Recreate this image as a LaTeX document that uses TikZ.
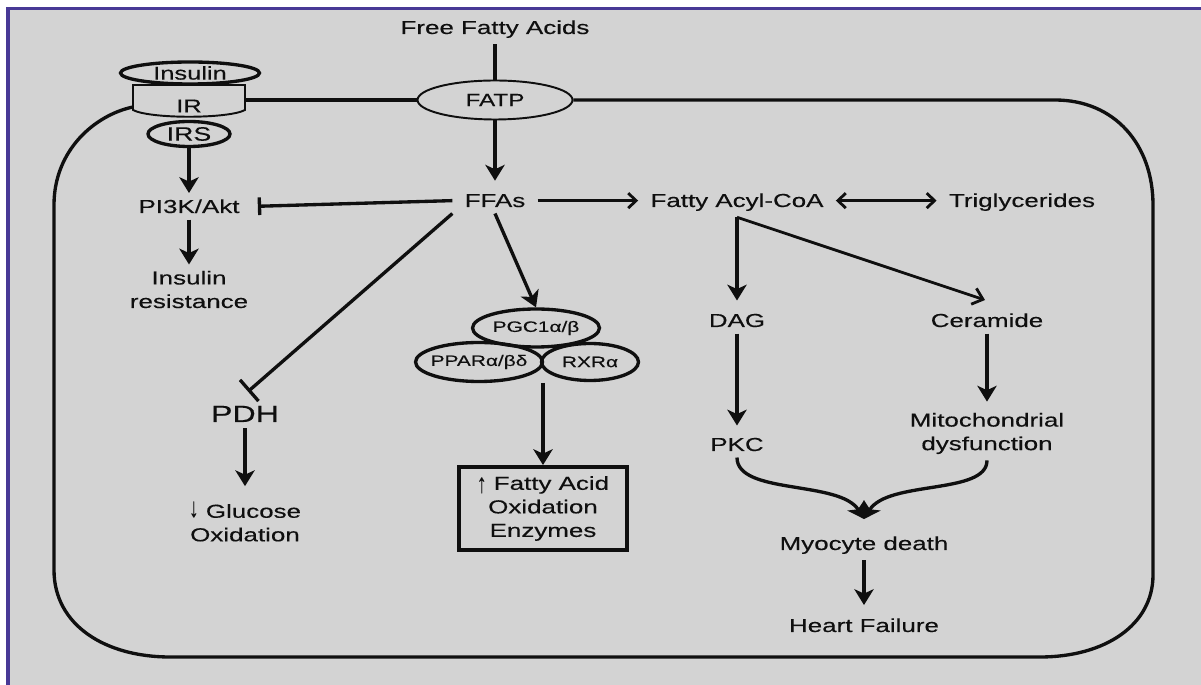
\documentclass[tikz,border=0pt]{standalone}
\usepackage{fontspec}
\usepackage{graphicx}
\setmainfont{Liberation Sans}[FakeStretch=1.38,FakeBold=0.3]
\usetikzlibrary{arrows.meta,shapes.geometric,calc}
\definecolor{bgc}{RGB}{211,211,211}
\definecolor{framec}{RGB}{72,57,150}
\definecolor{ink}{RGB}{15,15,15}
\newcommand{\uparr}{\raisebox{-0.15em}{\scalebox{0.75}[1.45]{↑}}}
\newcommand{\dnarr}{\raisebox{0.05em}{\scalebox{0.75}[1.45]{↓}}}
\begin{document}
\begin{tikzpicture}[x=0.02cm,y=-0.02cm,
  lbl/.style={font=\fontsize{10.7}{13.4}\selectfont, text=ink, align=center, inner xsep=0.24cm, inner ysep=0.12cm},
  oval/.style={ellipse, draw=ink, line width=1.9pt, inner sep=-3pt, text=ink},
  arr/.style={draw=ink, line width=1.9pt, -{Stealth[length=9pt,width=11pt,inset=2.5pt]}},
  barb/.style={draw=ink, line width=1.6pt, -{Straight Barb[length=4.5pt,width=8.5pt,line width=1.6pt]}},
  dbarb/.style={draw=ink, line width=1.6pt, {Straight Barb[length=4.5pt,width=8.5pt,line width=1.6pt]}-{Straight Barb[length=4.5pt,width=8.5pt,line width=1.6pt]}},
  inhib/.style={draw=ink, line width=1.9pt, -{Bar[width=#1,line width=1.9pt]}},
  inhib/.default=10pt,
  mem/.style={draw=ink, line width=1.9pt}]

\useasboundingbox (0,0) rectangle (1201,685);
\fill[white] (0,0) rectangle (1201,685);
\fill[bgc] (7,7) rectangle (1201,685);
\fill[framec] (6,7) rectangle (1201,10.5);
\fill[framec] (6,7) rectangle (10,685);

% membrane proteins
\node[oval, line width=1.1pt, minimum width=3.1cm, minimum height=0.78cm, font=\fontsize{10}{12}\selectfont] (fatp) at (495,100) {FATP};
\node[oval, minimum width=2.78cm, minimum height=0.44cm, font=\fontsize{10.5}{12}\selectfont] (ins) at (190,73) {Insulin};
\draw[draw=ink, line width=1.1pt] (133,85) -- (133,110) .. controls (150,119) and (228,119) .. (245,110) -- (245,85) -- cycle;
\node[font=\fontsize{10.5}{12}\selectfont, text=ink, inner sep=0pt, minimum width=2.24cm, minimum height=0.44cm] (ir) at (189,106) {IR};
\node[oval, minimum width=1.64cm, minimum height=0.5cm, font=\fontsize{11}{12}\selectfont] (irs) at (189,134) {IRS};

% text nodes
\node[lbl, anchor=base] (ffa) at (495,34) {Free Fatty Acids};
\node[lbl, anchor=base] (ffas) at (495,207) {FFAs};
\node[lbl, anchor=base] (facoa) at (737,207) {Fatty Acyl-CoA};
\node[lbl, anchor=base] (tg) at (1022,207) {Triglycerides};
\node[lbl, anchor=base] (pi3k) at (189,213) {PI3K/Akt};
\node[lbl] (ires) at (189,289.5) {Insulin\\resistance};
\node[lbl, anchor=base] (dag) at (737,327) {DAG};
\node[lbl, anchor=base] (cer) at (987,327) {Ceramide};
\node[lbl, anchor=base] (pkc) at (737,451) {PKC};
\node[lbl] (mito) at (987,433.5) {Mitochondrial\\dysfunction};
\node[lbl, anchor=base] (myo) at (864,550) {Myocyte death};
\node[lbl, anchor=base] (hf) at (864,632) {Heart Failure};
\node[lbl, anchor=base, font=\fontsize{13.3}{15}\selectfont] (pdh) at (245,422) {PDH};
\node[lbl] (gluc) at (245,521.5) {\dnarr\ Glucose\\Oxidation};

% nuclear receptor complex
\node[oval, minimum width=2.54cm, minimum height=0.76cm, font=\fontsize{8.6}{10}\selectfont] (pgc) at (536,328) {PGC1α/β};
\node[oval, minimum width=2.54cm, minimum height=0.78cm, font=\fontsize{8.6}{10}\selectfont] (ppar) at (479,362) {PPARα/βδ};
\node[oval, minimum width=1.94cm, minimum height=0.74cm, font=\fontsize{8.6}{10}\selectfont] (rxr) at (590,362) {RXRα};
\coordinate (trio) at (543,383);
\node[lbl, draw=ink, line width=2.2pt, minimum width=3.36cm, minimum height=1.66cm, inner sep=0pt] (fao) at (543,508.5) {\uparr\ Fatty Acid\\Oxidation\\Enzymes};

% membrane
\draw[mem] (ir.east |- fatp.west) -- (fatp.west);
\draw[mem] (fatp.east) -- (1055,100) .. controls (1115,100) and (1153,145) .. (1153,205)
  -- (1153,575) .. controls (1153,625) and (1105,657) .. (1040,657)
  -- (170,657) .. controls (105,657) and (54,625) .. (54,570)
  -- (54,205) .. controls (54,150) and (95,115) .. (133,107);

% connectors
\draw[mem] (ffa.south) -- (fatp.north);
\draw[arr] (fatp.south) -- ($(ffas.north)+(0,-7)$);
\draw[barb] (ffas.east) -- (facoa.west |- ffas.east);
\draw[dbarb] (facoa.east |- ffas.east) -- (tg.west |- ffas.east);
\draw[arr] (facoa.south) -- ($(dag.north)+(0,-7)$);
\draw[barb, -{Straight Barb[length=5.5pt,width=9.5pt,line width=1.6pt]}] (facoa.south) -- ($(cer.north)+(-2,-7)$);
\draw[arr] (dag.south) -- ($(pkc.north)+(0,-6)$);
\draw[arr] (cer.south) -- ($(mito.north)+(0,-5)$);
\draw[arr] (pkc.south) .. controls (737,495) and (840,480) .. ($(myo.north)+(0,-11)$);
\draw[arr] (mito.south) .. controls (987,495) and (888,480) .. ($(myo.north)+(0,-11)$);
\draw[arr] (myo.south) -- ($(hf.north)+(0,-7)$);

\draw[arr] (irs.south) -- (pi3k.north);
\draw[inhib] (ffas.west) -- ($(pi3k.east)+(6,0)$);
\draw[arr] (pi3k.south) -- (ires.north);
\draw[inhib=16pt] (ffas.south west) -- ($(pdh.north)+(3,-8)$);
\draw[arr] (pdh.south) -- ($(gluc.north)+(0,-9)$);
\draw[arr] (ffas.south) -- (pgc.north);
\draw[arr] (trio) -- (fao.north);
\end{tikzpicture}
\end{document}
